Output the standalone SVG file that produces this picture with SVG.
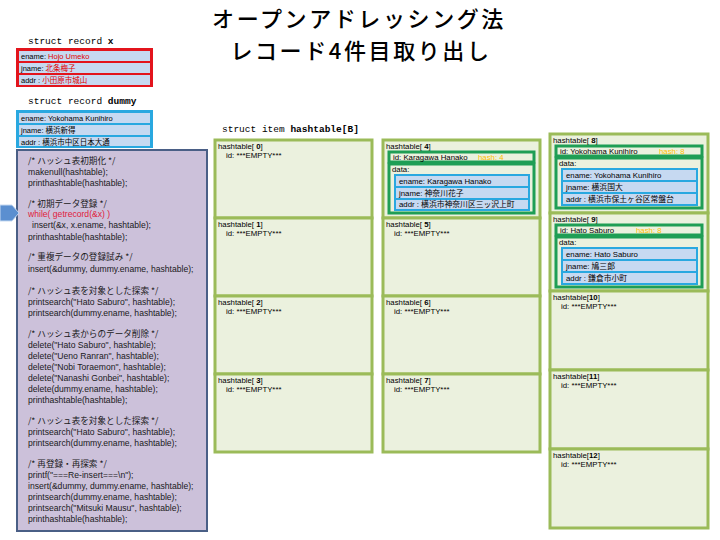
<svg xmlns="http://www.w3.org/2000/svg" width="720" height="540" viewBox="0 0 720 540">
<style>
.title{font-family:"Noto Sans CJK JP","Noto Sans",sans-serif;font-size:22px;font-weight:500;letter-spacing:2.6px;fill:#000;text-anchor:middle}
.mono{font-family:"Liberation Mono","DejaVu Sans Mono",monospace;font-size:9.5px;fill:#000}
.rec{font-family:"Liberation Sans","Noto Sans CJK JP",sans-serif;font-size:7.5px;fill:#000}
.red{fill:#e00000}
.code{font-family:"Liberation Sans","Noto Sans CJK JP",sans-serif;font-size:8.6px;fill:#1a1a1a}
.jp{font-family:"Noto Sans CJK JP",sans-serif;font-size:8.6px}
.cell{fill:#ebf1de;stroke:#9bbb59;stroke-width:3}
.inner{fill:#ebf1de;stroke:#1f9e55;stroke-width:3}
.blue{fill:#29a8e0}
.row{fill:#c6d9f1}
.ct{font-family:"Liberation Sans","Noto Sans CJK JP",sans-serif;font-size:7.8px;fill:#000}
.hash{fill:#ffc000}
</style>

<g id="title">
<text class="title" x="359" y="27">オープンアドレッシング法</text>
<text class="title" x="361" y="59">レコード4件目取り出し</text>
</g>

<g id="record-x">
<text class="mono" x="28" y="44">struct record <tspan font-weight="bold">x</tspan></text>
<rect x="16" y="48" width="137" height="39" fill="#e3141c"/>
<rect class="row" x="19" y="51" width="131" height="10"/>
<rect class="row" x="19" y="63" width="131" height="10"/>
<rect class="row" x="19" y="75" width="131" height="10"/>
<text class="rec" x="21" y="59">ename: <tspan class="red">Hojo Umeko</tspan></text>
<text class="rec" x="21" y="71">jname: <tspan class="red">北条梅子</tspan></text>
<text class="rec" x="21" y="83">addr : <tspan class="red">小田原市城山</tspan></text>
</g>

<g id="record-dummy">
<text class="mono" x="28" y="104">struct record <tspan font-weight="bold">dummy</tspan></text>
<rect class="blue" x="16" y="110" width="137" height="38"/>
<rect class="row" x="19" y="113" width="131" height="10"/>
<rect class="row" x="19" y="125" width="131" height="10"/>
<rect class="row" x="19" y="137" width="131" height="9"/>
<text class="rec" x="21" y="121">ename: Yokohama Kunihiro</text>
<text class="rec" x="21" y="133">jname: 横浜新得</text>
<text class="rec" x="21" y="145">addr : 横浜市中区日本大通</text>
</g>

<g id="code">
<rect x="17" y="150" width="190" height="381" fill="#ccc1da" stroke="#4a5f86" stroke-width="2"/>
<polygon points="0,205 12,205 19,213 12,221 0,221" fill="#5b8fd0" stroke="#c6d9f1" stroke-width="1"/>
<text class="code" x="28" y="164"><tspan class="jp">/* ハッシュ表初期化 */</tspan></text>
<text class="code" x="28" y="175">makenull(hashtable);</text>
<text class="code" x="28" y="186">printhashtable(hashtable);</text>
<text class="code" x="28" y="207"><tspan class="jp">/* 初期データ登録 */</tspan></text>
<text class="code" x="28" y="217" style="fill:#e0203a">while( getrecord(&amp;x) )</text>
<text class="code" x="32" y="228">insert(&amp;x, x.ename, hashtable);</text>
<text class="code" x="28" y="240">printhashtable(hashtable);</text>
<text class="code" x="28" y="260"><tspan class="jp">/* 重複データの登録試み */</tspan></text>
<text class="code" x="28" y="272">insert(&amp;dummy, dummy.ename, hashtable);</text>
<text class="code" x="28" y="294"><tspan class="jp">/* ハッシュ表を対象とした探索 */</tspan></text>
<text class="code" x="28" y="305">printsearch("Hato Saburo", hashtable);</text>
<text class="code" x="28" y="316">printsearch(dummy.ename, hashtable);</text>
<text class="code" x="28" y="337"><tspan class="jp">/* ハッシュ表からのデータ削除 */</tspan></text>
<text class="code" x="28" y="348">delete("Hato Saburo", hashtable);</text>
<text class="code" x="28" y="359">delete("Ueno Ranran", hashtable);</text>
<text class="code" x="28" y="370">delete("Nobi Toraemon", hashtable);</text>
<text class="code" x="28" y="381">delete("Nanashi Gonbei", hashtable);</text>
<text class="code" x="28" y="392">delete(dummy.ename, hashtable);</text>
<text class="code" x="28" y="403">printhashtable(hashtable);</text>
<text class="code" x="28" y="424"><tspan class="jp">/* ハッシュ表を対象とした探索 */</tspan></text>
<text class="code" x="28" y="435">printsearch("Hato Saburo", hashtable);</text>
<text class="code" x="28" y="446">printsearch(dummy.ename, hashtable);</text>
<text class="code" x="28" y="467"><tspan class="jp">/* 再登録・再探索 */</tspan></text>
<text class="code" x="28" y="478">printf("===Re-insert===\n");</text>
<text class="code" x="28" y="489">insert(&amp;dummy, dummy.ename, hashtable);</text>
<text class="code" x="28" y="500">printsearch(dummy.ename, hashtable);</text>
<text class="code" x="28" y="511">printsearch("Mitsuki Mausu", hashtable);</text>
<text class="code" x="28" y="522">printhashtable(hashtable);</text>
</g>

<text class="mono" x="222" y="132">struct item <tspan font-weight="bold">hashtable[B]</tspan></text>

<g id="cell-0"><rect class="cell" x="215" y="140" width="157" height="78"/><text class="ct" x="218" y="149">hashtable[ <tspan font-weight="bold">0</tspan>]</text><text class="ct" x="226" y="158">id: ***EMPTY***</text></g>
<g id="cell-1"><rect class="cell" x="215" y="218" width="157" height="78"/><text class="ct" x="218" y="227">hashtable[ <tspan font-weight="bold">1</tspan>]</text><text class="ct" x="226" y="236">id: ***EMPTY***</text></g>
<g id="cell-2"><rect class="cell" x="215" y="296" width="157" height="78"/><text class="ct" x="218" y="305">hashtable[ <tspan font-weight="bold">2</tspan>]</text><text class="ct" x="226" y="314">id: ***EMPTY***</text></g>
<g id="cell-3"><rect class="cell" x="215" y="374" width="157" height="78"/><text class="ct" x="218" y="383">hashtable[ <tspan font-weight="bold">3</tspan>]</text><text class="ct" x="226" y="392">id: ***EMPTY***</text></g>

<g id="cell-4">
<rect class="cell" x="383" y="140" width="157" height="78"/>
<text class="ct" x="386" y="149">hashtable[ <tspan font-weight="bold">4</tspan>]</text>
<rect class="inner" x="389" y="152" width="145" height="10"/>
<text class="ct" x="393" y="160">id: Karagawa Hanako</text>
<text class="ct hash" x="478" y="160">hash: 4</text>
<rect class="inner" x="389" y="164" width="145" height="49"/>
<text class="ct" x="392" y="172">data:</text>
<rect class="blue" x="394" y="174" width="136" height="37"/>
<rect class="row" x="396" y="176" width="132" height="10"/>
<rect class="row" x="396" y="188" width="132" height="10"/>
<rect class="row" x="396" y="200" width="132" height="9"/>
<text class="ct" x="399" y="184">ename: Karagawa Hanako</text>
<text class="ct" x="399" y="196">jname: 神奈川花子</text>
<text class="ct" x="399" y="207">addr : 横浜市神奈川区三ッ沢上町</text>
</g>
<g id="cell-5"><rect class="cell" x="383" y="218" width="157" height="78"/><text class="ct" x="386" y="227">hashtable[ <tspan font-weight="bold">5</tspan>]</text><text class="ct" x="394" y="236">id: ***EMPTY***</text></g>
<g id="cell-6"><rect class="cell" x="383" y="296" width="157" height="78"/><text class="ct" x="386" y="305">hashtable[ <tspan font-weight="bold">6</tspan>]</text><text class="ct" x="394" y="314">id: ***EMPTY***</text></g>
<g id="cell-7"><rect class="cell" x="383" y="374" width="157" height="78"/><text class="ct" x="386" y="383">hashtable[ <tspan font-weight="bold">7</tspan>]</text><text class="ct" x="394" y="392">id: ***EMPTY***</text></g>

<g id="cell-8">
<rect class="cell" x="550" y="134" width="158" height="79"/>
<text class="ct" x="553" y="143">hashtable[ <tspan font-weight="bold">8</tspan>]</text>
<rect class="inner" x="556" y="146" width="146" height="10"/>
<text class="ct" x="560" y="154">id: Yokohama Kunihiro</text>
<text class="ct hash" x="659" y="154">hash: 8</text>
<rect class="inner" x="556" y="158" width="146" height="50"/>
<text class="ct" x="559" y="166">data:</text>
<rect class="blue" x="561" y="168" width="137" height="38"/>
<rect class="row" x="563" y="170" width="133" height="10"/>
<rect class="row" x="563" y="182" width="133" height="10"/>
<rect class="row" x="563" y="194" width="133" height="10"/>
<text class="ct" x="566" y="178">ename: Yokohama Kunihiro</text>
<text class="ct" x="566" y="190">jname: 横浜国大</text>
<text class="ct" x="566" y="202">addr : 横浜市保土ヶ谷区常盤台</text>
</g>
<g id="cell-9">
<rect class="cell" x="550" y="213" width="158" height="78"/>
<text class="ct" x="553" y="222">hashtable[ <tspan font-weight="bold">9</tspan>]</text>
<rect class="inner" x="556" y="225" width="146" height="10"/>
<text class="ct" x="560" y="233">id: Hato Saburo</text>
<text class="ct hash" x="636" y="233">hash: 8</text>
<rect class="inner" x="556" y="237" width="146" height="50"/>
<text class="ct" x="559" y="245">data:</text>
<rect class="blue" x="561" y="247" width="137" height="38"/>
<rect class="row" x="563" y="249" width="133" height="10"/>
<rect class="row" x="563" y="261" width="133" height="10"/>
<rect class="row" x="563" y="273" width="133" height="10"/>
<text class="ct" x="566" y="257">ename: Hato Saburo</text>
<text class="ct" x="566" y="269">jname: 鳩三郎</text>
<text class="ct" x="566" y="281">addr : 鎌倉市小町</text>
</g>
<g id="cell-10"><rect class="cell" x="550" y="291" width="158" height="79"/><text class="ct" x="553" y="300">hashtable[<tspan font-weight="bold">10</tspan>]</text><text class="ct" x="561" y="309">id: ***EMPTY***</text></g>
<g id="cell-11"><rect class="cell" x="550" y="370" width="158" height="79"/><text class="ct" x="553" y="379">hashtable[<tspan font-weight="bold">11</tspan>]</text><text class="ct" x="561" y="388">id: ***EMPTY***</text></g>
<g id="cell-12"><rect class="cell" x="550" y="449" width="158" height="79"/><text class="ct" x="553" y="458">hashtable[<tspan font-weight="bold">12</tspan>]</text><text class="ct" x="561" y="467">id: ***EMPTY***</text></g>

<g id="connectors"></g>
</svg>
